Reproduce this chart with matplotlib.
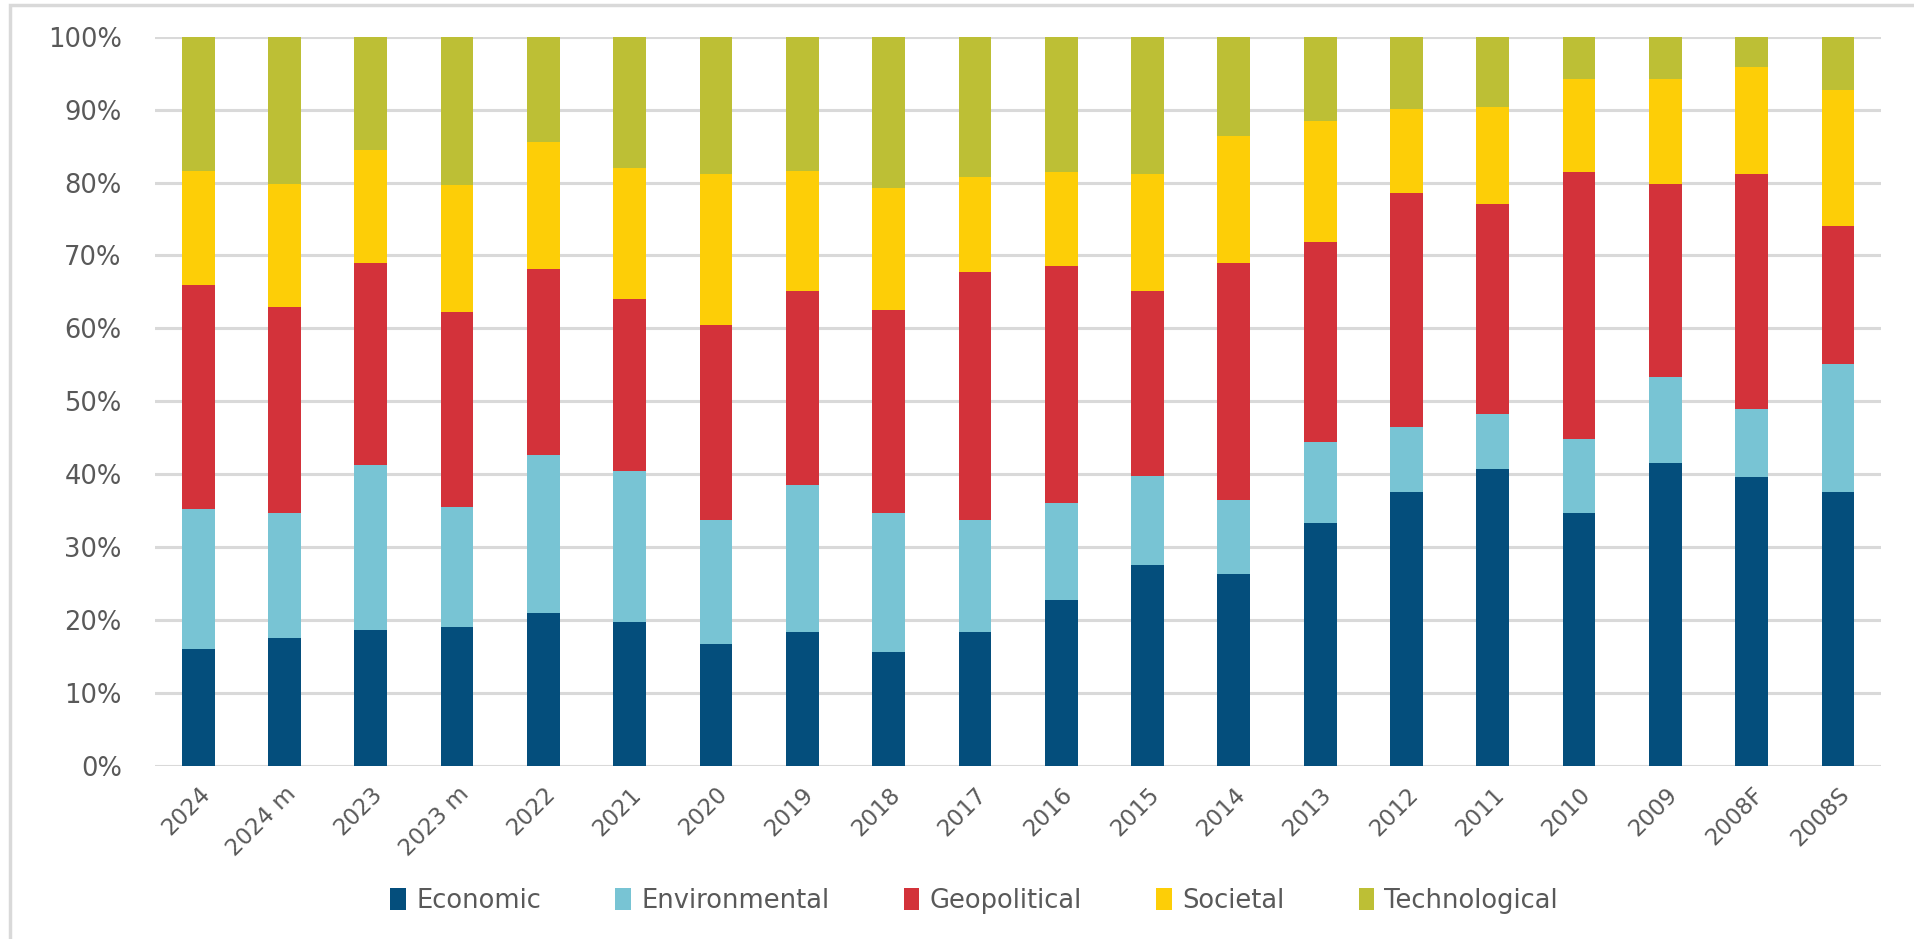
import matplotlib.pyplot as plt
import numpy as np
from matplotlib.patches import Rectangle

# survey years (left to right)
years = ['2024', '2024 m', '2023', '2023 m', '2022', '2021', '2020', '2019', '2018', '2017',
         '2016', '2015', '2014', '2013', '2012', '2011', '2010', '2009', '2008F', '2008S']

# share of each risk category, in %
economic = [16.1, 17.6, 18.6, 19.1, 21.0, 19.7, 16.7, 18.4, 15.6, 18.4,
            22.7, 27.5, 26.3, 33.3, 37.6, 40.7, 34.7, 41.5, 39.6, 37.6]
environmental = [19.2, 17.1, 22.7, 16.4, 21.7, 20.8, 17.0, 20.1, 19.1, 15.3,
                 13.4, 12.3, 10.2, 11.1, 8.9, 7.6, 10.1, 11.8, 9.4, 17.5]
geopolitical = [30.7, 28.2, 27.7, 26.7, 25.4, 23.5, 26.8, 26.6, 27.8, 34.0,
                32.4, 25.3, 32.5, 27.4, 32.1, 28.7, 36.6, 26.5, 32.2, 18.9]
societal = [15.6, 16.9, 15.4, 17.4, 17.4, 18.0, 20.6, 16.5, 16.7, 13.0,
            12.9, 16.0, 17.4, 16.7, 11.5, 13.3, 12.8, 14.4, 14.7, 18.7]
technological = [18.4, 20.2, 15.6, 20.4, 14.5, 18.0, 18.9, 18.4, 20.8, 19.3,
                 18.6, 18.9, 13.6, 11.5, 9.9, 9.7, 5.8, 5.8, 4.1, 7.3]

series = ['Economic', 'Environmental', 'Geopolitical', 'Societal', 'Technological']
colors = ['#044E7C', '#78C4D4', '#D3323A', '#FDCE07', '#BDBF35']

data = np.array([economic, environmental, geopolitical, societal, technological])
data = data / data.sum(axis=0)  # 100% stacked

plt.rcParams['font.family'] = ['DejaVu Sans']
text_color = '#595959'

fig = plt.figure(figsize=(19.14, 9.39), dpi=100)
ax = fig.add_axes([0.081, 0.1842, 0.9018, 0.7768])

x = np.arange(len(years))
bottom = np.zeros(len(years))
for name, vals, c in zip(series, data, colors):
    ax.bar(x, vals, 0.38, bottom=bottom, color=c, label=name, zorder=3)
    bottom += vals

ax.set_xlim(-0.5, len(years) - 0.5)
ax.set_ylim(0, 1)
ax.set_yticks(np.arange(0, 1.01, 0.1))
ax.set_yticklabels([f'{int(round(v * 100))}%' for v in np.arange(0, 1.01, 0.1)])
ax.yaxis.grid(True, color='#D9D9D9', linewidth=2.2, zorder=0)
ax.set_axisbelow(True)
for s in ax.spines.values():
    s.set_visible(False)
ax.tick_params(axis='both', length=0, colors=text_color)
ax.tick_params(axis='y', pad=24, labelsize=18.5)
ax.set_xticks(x)
ax.set_xticklabels(years, rotation=45, ha='right', rotation_mode='anchor', fontsize=16.5)
ax.tick_params(axis='x', pad=12)

leg = fig.legend(loc='center', bbox_to_anchor=(0.509, 0.0405), ncol=5, frameon=False,
                 fontsize=18.5, handlelength=0.6, handleheight=0.9, handletextpad=0.4,
                 columnspacing=2.9, labelcolor=text_color)

# chart area border (left/top visible)
fig.patches.append(Rectangle((10 / 1914, -0.1), 1.2, 1 - 5 / 939 + 0.1,
                             transform=fig.transFigure, fill=False,
                             edgecolor='#D9D9D9', linewidth=2.5))

fig.savefig('out.png', dpi=100)
